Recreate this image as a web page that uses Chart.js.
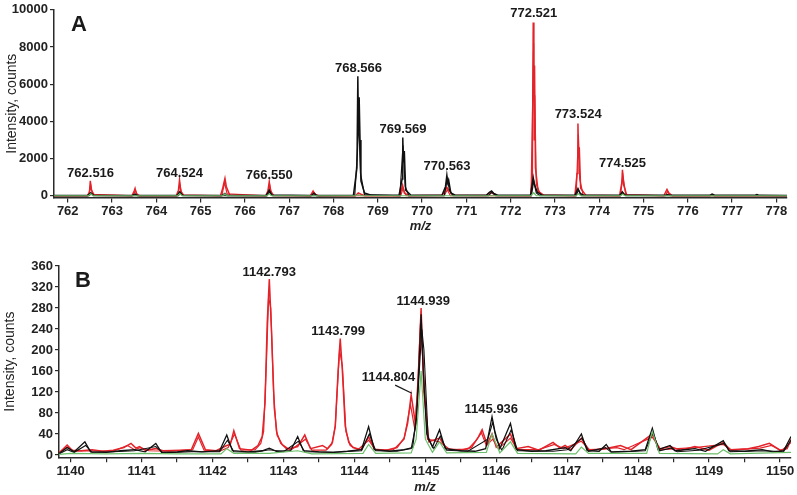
<!DOCTYPE html>
<html>
<head>
<meta charset="utf-8">
<script src="https://cdn.jsdelivr.net/npm/chart.js@4.4.1/dist/chart.umd.min.js"></script>
<style>
  body { margin: 0; background: #fff; }
  .panel { position: absolute; left: 0; }
  #wrapA { top: 0; width: 797px; height: 240px; }
  #wrapB { top: 230px; width: 797px; height: 265px; }
</style>
</head>
<body>
<div class="panel" id="wrapA"><canvas id="chartA" width="797" height="240"></canvas></div>
<div class="panel" id="wrapB"><canvas id="chartB" width="797" height="265"></canvas></div>
<script>
// Panel A - spectrum around m/z 762-778, [m/z, intensity] points
const redA1 = [[761.69,0],[762.44,0],[762.49,180],[762.51,800],[762.53,320],[762.6,30],[763.45,0],[763.5,250],[763.52,390],[763.55,100],[763.62,0],[764.45,0],[764.5,300],[764.524,840],[764.55,260],[764.62,20],[765.45,0],[765.5,420],[765.55,930],[765.58,500],[765.66,30],[766.47,0],[766.52,260],[766.55,750],[766.57,300],[766.65,10],[767.48,0],[767.54,250],[767.58,80],[767.66,0],[768.5,0],[768.56,150],[768.62,80],[768.7,0],[769.5,0],[769.56,570],[769.6,150],[769.7,0],[770.45,20],[770.52,250],[770.56,450],[770.6,300],[770.7,30],[771.45,10],[771.55,200],[771.6,120],[771.7,10],[772.45,0],[772.49,900],[772.51,9320],[772.525,5200],[772.54,7000],[772.56,1500],[772.62,250],[772.75,20],[773.45,0],[773.5,1200],[773.52,3890],[773.535,2000],[773.55,2600],[773.58,400],[773.7,20],[774.46,0],[774.51,700],[774.525,1400],[774.55,600],[774.62,40],[775.46,0],[775.5,200],[775.53,340],[775.57,150],[775.65,0],[776.5,0],[776.54,60],[776.6,0],[778.24,0]];
const redA2 = [[761.69,0],[762.47,0],[762.52,600],[762.56,80],[763.47,0],[763.53,280],[763.58,0],[764.48,0],[764.53,650],[764.58,40],[765.48,0],[765.54,700],[765.6,100],[766.5,0],[766.56,600],[766.61,20],[767.5,0],[767.56,180],[767.62,0],[769.52,0],[769.57,400],[769.64,0],[770.5,0],[770.57,320],[770.64,0],[772.46,0],[772.52,8200],[772.53,3000],[772.545,5400],[772.58,600],[772.68,40],[773.48,0],[773.53,3300],[773.56,900],[773.64,0],[774.48,0],[774.535,1100],[774.6,50],[775.5,0],[775.54,250],[775.6,0],[778.24,0]];
const blackA1 = [[761.69,10],[762.45,10],[762.52,160],[762.58,20],[763.45,10],[763.52,90],[763.58,10],[764.47,10],[764.53,210],[764.59,20],[765.48,10],[765.55,120],[765.6,10],[766.48,10],[766.55,300],[766.6,40],[767.5,10],[767.56,130],[767.62,10],[768.45,20],[768.53,1500],[768.55,6430],[768.565,3500],[768.58,5300],[768.6,3000],[768.62,800],[768.7,150],[768.85,30],[769.48,20],[769.55,900],[769.565,3130],[769.58,1800],[769.6,2400],[769.63,300],[769.75,30],[770.45,20],[770.53,500],[770.56,1100],[770.58,700],[770.6,850],[770.65,150],[770.75,30],[771.45,20],[771.52,180],[771.57,260],[771.62,120],[771.72,20],[772.45,20],[772.51,980],[772.54,600],[772.6,200],[772.7,40],[773.45,20],[773.52,390],[773.57,120],[773.66,20],[774.47,20],[774.52,210],[774.58,30],[775.5,20],[775.54,60],[775.6,20],[776.5,20],[776.55,90],[776.62,20],[777.5,20],[777.56,60],[777.62,20],[778.24,10]];
const blackA2 = [[761.69,0],[762.48,0],[762.53,110],[762.58,0],[764.5,0],[764.54,150],[764.6,0],[766.5,0],[766.56,220],[766.62,0],[768.48,0],[768.54,2300],[768.57,4200],[768.61,1200],[768.7,60],[769.5,0],[769.57,2700],[769.62,500],[769.7,0],[770.5,0],[770.57,900],[770.62,300],[770.7,0],[771.5,0],[771.58,200],[771.66,0],[772.47,0],[772.52,800],[772.58,150],[772.66,0],[773.48,0],[773.53,320],[773.6,0],[774.48,0],[774.53,160],[774.6,0],[778.24,0]];
const greenA = [[761.69,0],[762.47,0],[762.52,110],[762.57,0],[764.48,0],[764.53,120],[764.58,0],[765.5,0],[765.55,110],[765.6,0],[766.5,0],[766.55,100],[766.6,0],[768.5,0],[768.56,60],[768.62,0],[772.46,0],[772.52,160],[772.58,0],[773.48,0],[773.53,100],[773.58,0],[774.48,0],[774.53,80],[774.58,0],[778.24,0]];

const xTicksA = [762, 763, 764, 765, 766, 767, 768, 769, 770, 771, 772, 773, 774, 775, 776, 777, 778];
const yTicksA = [0, 2000, 4000, 6000, 8000, 10000];

const peakTextA = ['762.516','764.524','766.550','768.566','769.569','770.563','772.521','773.524','774.525'];
const peakMzA = [762.516, 764.524, 766.550, 768.566, 769.569, 770.563, 772.521, 773.524, 774.525];
const peakLabelYA = [1190, 1200, 1100, 6870, 3550, 1600, 9800, 4390, 1760];

// Panel B - spectrum around m/z 1140-1150
const redB1 = [[1139.84,5],[1139.9,12],[1139.95,19],[1140.02,9],[1140.15,8],[1140.3,10],[1140.45,7],[1140.6,9],[1140.75,14],[1140.85,22],[1140.92,13],[1140.97,16],[1141.05,9],[1141.2,12],[1141.3,8],[1141.55,9],[1141.7,10],[1141.8,41],[1141.9,10],[1142.05,8],[1142.2,18],[1142.25,20],[1142.3,46],[1142.38,12],[1142.55,9],[1142.64,18],[1142.7,35],[1142.74,100],[1142.77,250],[1142.8,335],[1142.83,240],[1142.87,90],[1142.91,38],[1142.98,20],[1143.05,11],[1143.2,16],[1143.3,38],[1143.38,12],[1143.55,18],[1143.62,12],[1143.69,24],[1143.73,55],[1143.77,160],[1143.8,222],[1143.83,160],[1143.87,55],[1143.92,24],[1143.98,14],[1144.1,10],[1144.2,35],[1144.28,11],[1144.45,9],[1144.6,14],[1144.7,32],[1144.75,60],[1144.8,114],[1144.86,60],[1144.9,150],[1144.94,280],[1144.98,120],[1145.05,25],[1145.2,32],[1145.3,12],[1145.5,9],[1145.65,14],[1145.75,35],[1145.8,48],[1145.87,20],[1145.94,40],[1146.0,15],[1146.2,40],[1146.28,12],[1146.45,16],[1146.6,9],[1146.8,24],[1146.9,13],[1146.97,18],[1147.05,10],[1147.2,32],[1147.3,10],[1147.5,11],[1147.75,18],[1147.9,10],[1148.2,40],[1148.3,11],[1148.45,16],[1148.6,9],[1148.8,16],[1149.0,9],[1149.2,24],[1149.3,10],[1149.55,12],[1149.7,16],[1149.85,22],[1150.0,9],[1150.1,12],[1150.155,30]];
const redB2 = [[1139.84,4],[1139.95,15],[1140.05,7],[1140.3,8],[1140.6,7],[1140.8,18],[1140.9,10],[1140.98,14],[1141.1,8],[1141.4,7],[1141.72,10],[1141.8,34],[1141.88,9],[1142.1,7],[1142.22,14],[1142.31,40],[1142.4,9],[1142.6,10],[1142.68,22],[1142.72,45],[1142.76,180],[1142.79,300],[1142.82,280],[1142.86,120],[1142.9,45],[1142.96,22],[1143.1,9],[1143.31,30],[1143.4,9],[1143.6,9],[1143.68,20],[1143.73,55],[1143.79,200],[1143.83,170],[1143.88,45],[1143.94,18],[1144.05,10],[1144.2,28],[1144.3,9],[1144.55,10],[1144.7,30],[1144.79,96],[1144.85,50],[1144.89,120],[1144.93,250],[1144.97,170],[1145.03,30],[1145.2,25],[1145.35,10],[1145.6,11],[1145.72,28],[1145.79,42],[1145.86,18],[1145.95,30],[1146.03,12],[1146.2,32],[1146.3,10],[1146.6,10],[1146.82,20],[1146.95,12],[1147.2,26],[1147.32,9],[1147.7,14],[1147.8,10],[1148.2,34],[1148.32,10],[1148.8,14],[1149.2,20],[1149.32,9],[1149.72,13],[1149.88,18],[1150.02,8],[1150.155,24]];
const blackB1 = [[1139.84,3],[1139.95,14],[1140.05,6],[1140.2,25],[1140.28,6],[1140.5,5],[1140.7,8],[1140.9,10],[1141.05,6],[1141.2,22],[1141.28,5],[1141.5,6],[1141.65,8],[1141.85,6],[1142.1,8],[1142.2,38],[1142.28,8],[1142.5,6],[1142.7,8],[1142.8,13],[1142.9,7],[1143.1,8],[1143.2,35],[1143.28,8],[1143.5,6],[1143.7,5],[1143.9,7],[1144.1,10],[1144.2,54],[1144.28,10],[1144.5,7],[1144.7,10],[1144.82,14],[1144.88,80],[1144.92,200],[1144.94,268],[1144.97,160],[1145.02,40],[1145.1,15],[1145.2,48],[1145.28,12],[1145.5,8],[1145.7,7],[1145.85,12],[1145.9,45],[1145.94,73],[1145.98,45],[1146.05,12],[1146.2,60],[1146.28,10],[1146.5,7],[1146.7,8],[1146.97,14],[1147.05,8],[1147.2,40],[1147.28,8],[1147.45,7],[1147.55,20],[1147.62,6],[1147.9,7],[1148.1,10],[1148.2,51],[1148.28,10],[1148.45,18],[1148.52,8],[1148.8,12],[1148.95,7],[1149.2,27],[1149.28,8],[1149.5,7],[1149.75,10],[1149.9,6],[1150.05,8],[1150.155,35]];
const blackB2 = [[1139.84,2],[1139.95,10],[1140.05,5],[1140.21,18],[1140.3,5],[1140.6,6],[1140.9,8],[1141.2,16],[1141.3,4],[1141.7,6],[1142.1,6],[1142.21,28],[1142.3,6],[1142.6,5],[1142.8,10],[1143.0,6],[1143.21,26],[1143.3,6],[1143.7,5],[1144.1,8],[1144.21,40],[1144.3,8],[1144.6,7],[1144.8,12],[1144.87,60],[1144.91,150],[1144.95,240],[1144.98,200],[1145.04,30],[1145.12,12],[1145.21,36],[1145.3,9],[1145.6,7],[1145.88,30],[1145.95,62],[1146.0,30],[1146.08,9],[1146.21,48],[1146.3,8],[1146.8,7],[1147.0,10],[1147.21,32],[1147.3,7],[1147.54,14],[1147.62,5],[1148.1,8],[1148.21,42],[1148.3,8],[1148.46,13],[1148.55,6],[1148.85,9],[1149.21,22],[1149.3,6],[1149.8,8],[1150.05,6],[1150.155,28]];
const greenB = [[1139.84,1],[1140,3],[1140.5,2],[1141,3],[1141.5,2],[1142.12,2],[1142.2,12],[1142.3,3],[1142.8,3],[1143.2,8],[1143.4,2],[1144.12,3],[1144.2,20],[1144.3,3],[1144.8,4],[1144.87,30],[1144.94,160],[1145.0,30],[1145.1,5],[1145.2,25],[1145.3,4],[1145.86,5],[1145.94,40],[1146.05,4],[1146.2,25],[1146.3,3],[1147.12,2],[1147.2,15],[1147.3,3],[1148.12,3],[1148.2,45],[1148.3,3],[1149.12,2],[1149.2,10],[1149.3,2],[1150.155,5]];

// major ticks carry labels, half-unit ticks are unlabelled
const xTicksB = [1140, 1140.5, 1141, 1141.5, 1142, 1142.5, 1143, 1143.5, 1144, 1144.5, 1145, 1145.5, 1146, 1146.5, 1147, 1147.5, 1148, 1148.5, 1149, 1149.5, 1150];
const yTicksB = [0, 40, 80, 120, 160, 200, 240, 280, 320, 360];

const peakTextB = ['1142.793','1143.799','1144.804','1144.939','1145.936'];
const peakLabelXB = [1142.80, 1143.77, 1144.48, 1144.97, 1145.93];
const peakLabelYB = [347, 236, 148, 292, 86];
const leaderB = [[1144.574, 133], [1144.81, 117.5]];

const FONT = '"Liberation Sans", Arial, sans-serif';

function pts(arr) {
  return arr.map(p => ({ x: p[0], y: p[1] }));
}

function trace(arr, color, width) {
  return {
    data: pts(arr),
    showLine: true,
    borderColor: color,
    borderWidth: width,
    pointRadius: 0,
    tension: 0
  };
}

function useTicks(list) {
  return scale => { scale.ticks = list.map(v => ({ value: v })); };
}

// draws the peak labels, leader line and panel letter
const labelPlugin = {
  id: 'peakLabels',
  afterDatasetsDraw(chart, args, opts) {
    const { ctx, scales: { x, y }, chartArea } = chart;
    ctx.save();
    ctx.fillStyle = '#1a1a1a';
    ctx.font = 'bold 13px ' + FONT;
    ctx.textAlign = 'center';
    ctx.textBaseline = 'middle';
    opts.texts.forEach((t, i) => {
      ctx.fillText(t, x.getPixelForValue(opts.xs[i]), y.getPixelForValue(opts.ys[i]));
    });
    if (opts.leader) {
      ctx.strokeStyle = '#1a1a1a';
      ctx.lineWidth = 1.2;
      ctx.beginPath();
      ctx.moveTo(x.getPixelForValue(opts.leader[0][0]), y.getPixelForValue(opts.leader[0][1]));
      ctx.lineTo(x.getPixelForValue(opts.leader[1][0]), y.getPixelForValue(opts.leader[1][1]));
      ctx.stroke();
    }
    ctx.font = 'bold 22px ' + FONT;
    ctx.textAlign = 'left';
    ctx.fillText(opts.letter, chartArea.left + opts.letterDx, chartArea.top + opts.letterDy);
    ctx.restore();
  }
};

function makeOptions(cfg) {
  return {
    responsive: false,
    animation: false,
    events: [],
    layout: { padding: cfg.padding },
    plugins: {
      legend: { display: false },
      tooltip: { enabled: false },
      peakLabels: cfg.labels
    },
    scales: {
      x: {
        type: 'linear',
        min: cfg.xMin,
        max: cfg.xMax,
        afterFit: s => { s.height = cfg.xHeight; },
        afterBuildTicks: useTicks(cfg.xTicks),
        border: { display: true, color: '#2a2a2a', width: 1.5 },
        grid: { drawOnChartArea: false, drawTicks: true, tickLength: 5, color: '#2a2a2a', lineWidth: 1.2 },
        ticks: {
          autoSkip: false,
          maxRotation: 0,
          padding: 1,
          color: '#222',
          font: { family: FONT, size: 13, weight: 'bold' },
          callback: v => Number.isInteger(v) ? String(v) : ''
        },
        title: {
          display: true,
          text: 'm/z',
          color: '#222',
          font: { family: FONT, size: 13, style: 'italic', weight: 'bold' },
          padding: { top: 0, bottom: cfg.xTitlePad }
        }
      },
      y: {
        min: cfg.yMin,
        max: cfg.yMax,
        afterFit: s => { s.width = cfg.yWidth; },
        afterBuildTicks: useTicks(cfg.yTicks),
        border: { display: true, color: '#2a2a2a', width: 1.5 },
        grid: { drawOnChartArea: false, drawTicks: true, tickLength: 4, color: '#2a2a2a', lineWidth: 1.2 },
        ticks: {
          autoSkip: false,
          padding: 2,
          color: '#222',
          font: { family: FONT, size: 13, weight: 'bold' },
          callback: v => String(v)
        },
        title: {
          display: true,
          text: 'Intensity, counts',
          color: '#222',
          font: { family: FONT, size: 14 },
          padding: { top: cfg.yTitlePad, bottom: 0 }
        }
      }
    }
  };
}

const RED = '#e3232a';
const BLACK = '#111111';
const GREEN = '#6cbf6a';

new Chart(document.getElementById('chartA'), {
  type: 'scatter',
  data: {
    datasets: [
      trace(greenA, GREEN, 1.2),
      trace(blackA2, BLACK, 1.2),
      trace(blackA1, BLACK, 1.5),
      trace(redA2, RED, 1.2),
      trace(redA1, RED, 1.5)
    ]
  },
  options: makeOptions({
    padding: { left: 0, right: 10, top: 8, bottom: 0 },
    xMin: 761.69, xMax: 778.24, xTicks: xTicksA, xHeight: 42.4, xTitlePad: 6,
    yMin: -100, yMax: 10000, yTicks: yTicksA, yWidth: 54, yTitlePad: 4,
    labels: { texts: peakTextA, xs: peakMzA, ys: peakLabelYA, letter: 'A', letterDx: 17, letterDy: 15 }
  }),
  plugins: [labelPlugin]
});

new Chart(document.getElementById('chartB'), {
  type: 'scatter',
  data: {
    datasets: [
      trace(greenB, GREEN, 1.2),
      trace(blackB2, BLACK, 1.1),
      trace(blackB1, BLACK, 1.3),
      trace(redB2, RED, 1.2),
      trace(redB1, RED, 1.5)
    ]
  },
  options: makeOptions({
    padding: { left: 0, right: 6, top: 36, bottom: 0 },
    xMin: 1139.835, xMax: 1150.155, xTicks: xTicksB, xHeight: 37.7, xTitlePad: 0,
    yMin: -4.5, yMax: 360, yTicks: yTicksB, yWidth: 59, yTitlePad: 2,
    labels: { texts: peakTextB, xs: peakLabelXB, ys: peakLabelYB, leader: leaderB, letter: 'B', letterDx: 16, letterDy: 15 }
  }),
  plugins: [labelPlugin]
});
</script>
</body>
</html>
